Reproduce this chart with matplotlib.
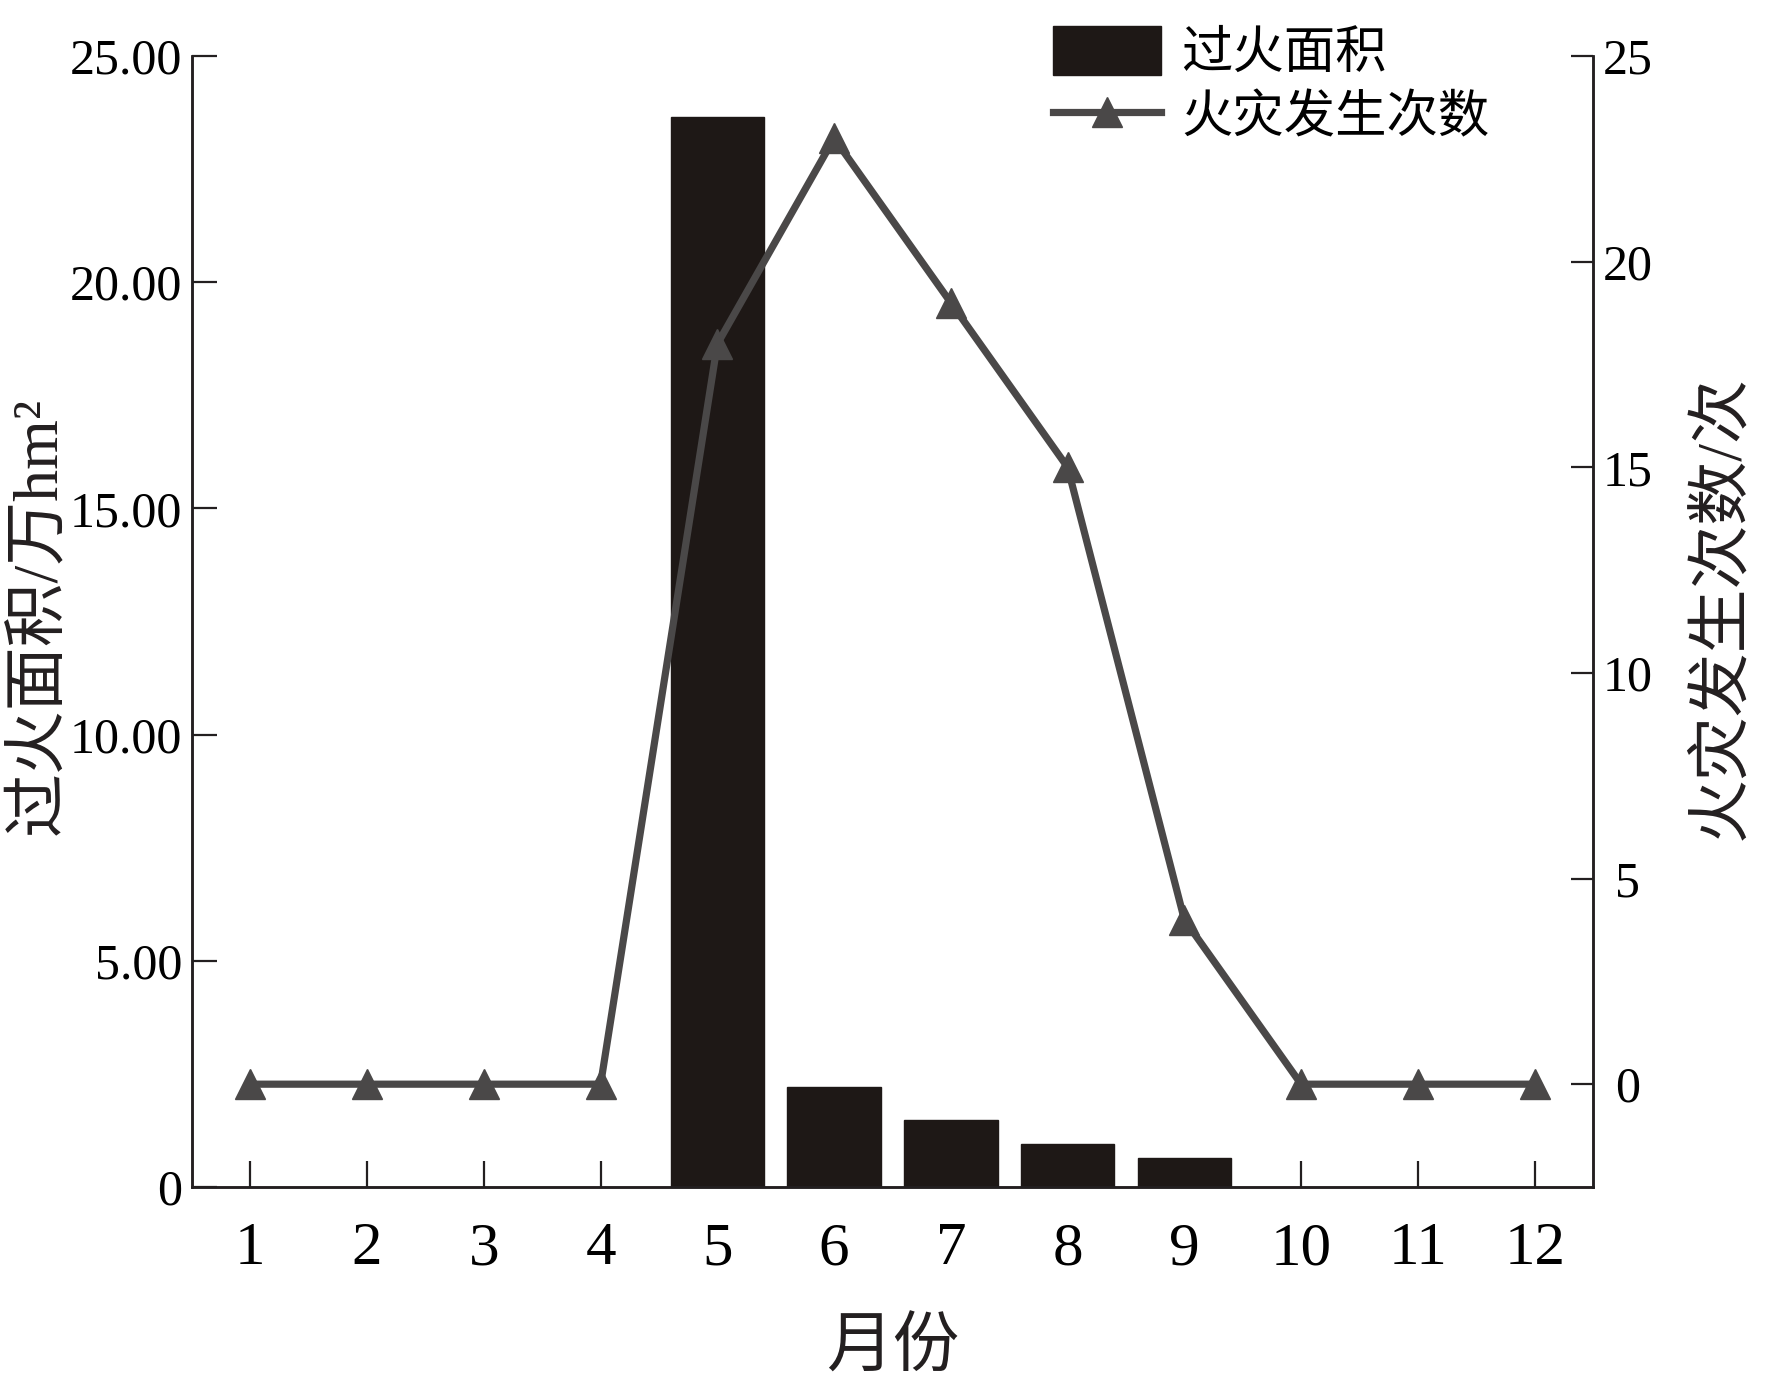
import matplotlib

matplotlib.use("Agg")

import matplotlib.pyplot as plt
from matplotlib.lines import Line2D
from matplotlib.patches import Patch

plt.rcParams["font.family"] = ["Liberation Serif", "Noto Sans CJK SC"]

MONTHS = list(range(1, 13))
# 过火面积 (万hm²), months 5-9 only
AREA_MONTHS = [5, 6, 7, 8, 9]
AREA = [23.65, 2.22, 1.47, 0.95, 0.65]
# 火灾发生次数
FIRES = [0, 0, 0, 0, 18, 23, 19, 15, 4, 0, 0, 0]

LEFT_TICKS = [0, 5, 10, 15, 20, 25]
LEFT_LABELS = ["0", "5.00", "10.00", "15.00", "20.00", "25.00"]
RIGHT_TICKS = [0, 5, 10, 15, 20, 25]

BAR = "#1e1816"
LINE = "#4a4848"
INK = "#231f20"

W, H = 1772, 1392
fig = plt.figure(figsize=(W / 100, H / 100), dpi=100)
ax = fig.add_axes([192 / W, 1 - 1187 / H, (1593 - 192) / W, (1187 - 56) / H])
ax2 = ax.twinx()

ax.bar(AREA_MONTHS, AREA, width=0.8, color=BAR, edgecolor=BAR, zorder=2)
ax.set_xlim(0.5, 12.5)
ax.set_ylim(0, 25)
ax.set_yticks(LEFT_TICKS)
ax.set_yticklabels(LEFT_LABELS)
ax.set_xticks(MONTHS)

ax2.plot(MONTHS, FIRES, color=LINE, linewidth=5.2, marker="^", markersize=21,
         markerfacecolor=LINE, markeredgecolor=LINE, zorder=3)
ax2.set_ylim(-2.5, 25)
ax2.set_yticks(RIGHT_TICKS)

for a in (ax, ax2):
    a.spines["top"].set_visible(False)
    for sp in ("left", "right", "bottom"):
        a.spines[sp].set_color(INK)
        a.spines[sp].set_linewidth(1.8)

ax.tick_params(axis="y", direction="in", length=18, width=1.6, color=INK, labelsize=36, pad=7)
ax.tick_params(axis="x", direction="in", length=19, width=1.6, color=INK, labelsize=44, pad=25)
ax2.tick_params(axis="y", direction="in", length=16, width=1.6, color=INK, labelsize=36, pad=25)
for lab in ax2.get_yticklabels():
    lab.set_horizontalalignment("center")

fig.text(40 / W, 1 - 616 / H, "过火面积/万hm²", rotation=90, ha="center", va="center", fontsize=46, color=INK)
fig.text(1723 / W, 1 - 608 / H, "火灾发生次数/次", rotation=90, ha="center", va="center", fontsize=46, color=INK)
fig.text(893 / W, 1 - 1350 / H, "月份", ha="center", va="center", fontsize=48, color=INK)

handles = [
    Patch(facecolor=BAR, edgecolor=BAR, label="过火面积"),
    Line2D([0], [0], color=LINE, linewidth=5.2, marker="^", markersize=21, label="火灾发生次数"),
]
fig.legend(handles=handles, loc="upper left", bbox_to_anchor=(1053 / W, 1 - 26 / H), frameon=False,
           fontsize=37, handlelength=2.1, handleheight=1.1, handletextpad=0.4, labelspacing=0.22,
           borderpad=0, borderaxespad=0)

fig.savefig("out.png", dpi=100, facecolor="white")
